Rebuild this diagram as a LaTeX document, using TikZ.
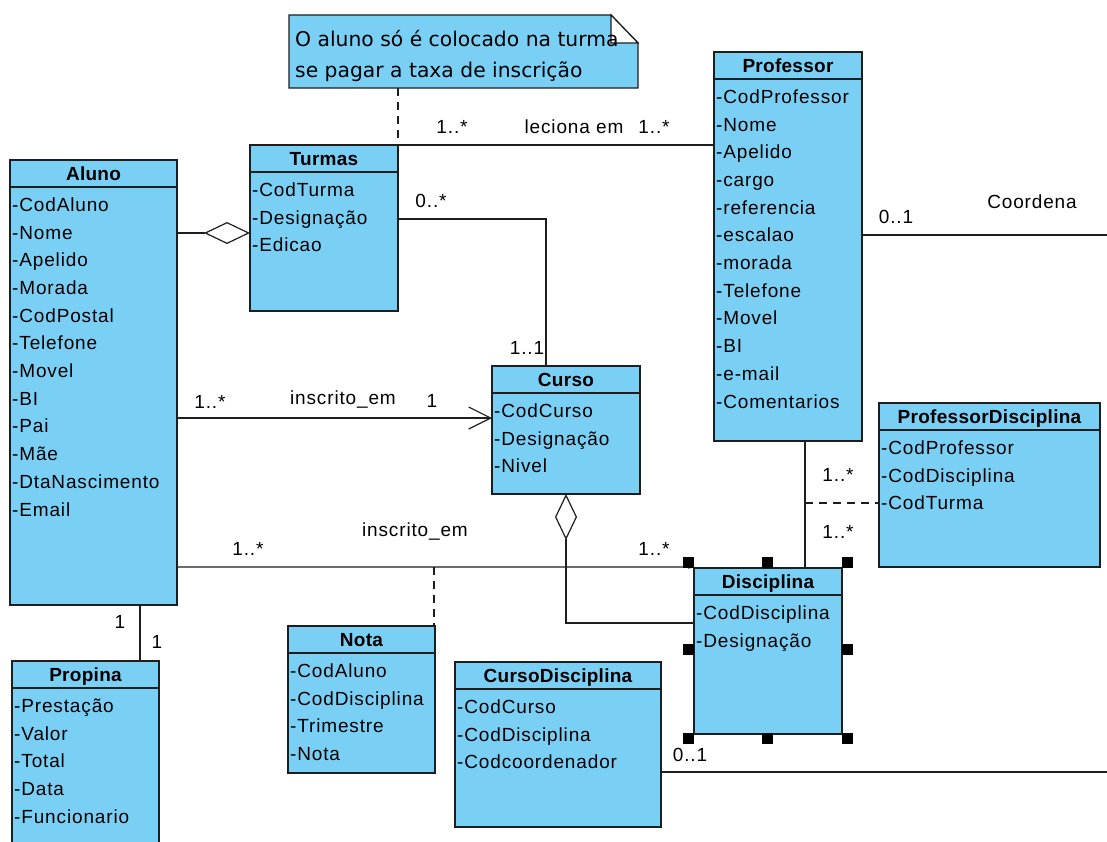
\documentclass[tikz,border=0pt]{standalone}
\usepackage{fontspec}
\setmainfont{Liberation Sans}[LetterSpace=4.5, BoldFeatures={LetterSpace=1.5}]
\newfontfamily\notefont{DejaVu Sans}
\usetikzlibrary{arrows.meta,calc}
\definecolor{clsfill}{HTML}{7ACFF5}
\definecolor{clsborder}{HTML}{1E1E1E}
\tikzset{
  clsbox/.style={draw=clsborder, fill=clsfill, line width=1.4pt, inner sep=0pt, outer sep=0pt},
  clsline/.style={draw=clsborder, line width=1.4pt},
  clstitle/.style={inner sep=0pt, font=\fontsize{19}{22}\selectfont\bfseries},
  clsattr/.style={inner sep=0pt, font=\fontsize{19}{22}\selectfont},
  notetext/.style={inner sep=0pt, font=\notefont\fontsize{20.3}{24}\selectfont, anchor=base west},
  lbl/.style={inner sep=0pt, font=\fontsize{19}{22}\selectfont, anchor=base},
  conn/.style={draw=clsborder, line width=1.2pt},
  dashconn/.style={conn, dash pattern=on 8pt off 6pt},
  aggtip/.tip={Diamond[open,length=46pt,width=22pt]},
  barbtip/.tip={Straight Barb[length=22pt,width=22pt]},
  handle/.style={fill=black, draw=none, minimum size=11pt, inner sep=0pt},
}
\newcommand{\umlclass}[7]{%
  \node[clsbox, minimum width=#4pt, minimum height=#5pt, anchor=north west] (#1) at (#2,#3) {};
  \draw[clsline] ($(#1.north west)+(0,27)$) -- ($(#1.north east)+(0,27)$);
  \node[clstitle, anchor=base] (#1-title) at ($(#1.north)+(0,20.3)$) {#6};
  \foreach \a [count=\i] in {#7} {
    \node[clsattr, anchor=base west] (#1-a\i) at ($(#1.north west)+(2,{27+17.5+6.8+(\i-1)*27.7})$) {\a};
  }%
}
\begin{document}
\begin{tikzpicture}[x=1pt,y=-1pt]
\useasboundingbox (0,0) rectangle (1107,841);
\clip (0,0) rectangle (1107,841);
\fill[white] (0,0) rectangle (1107,841);

\coordinate (ce1) at (1107,235);
\coordinate (ce2) at (1107,772);
\coordinate (nj) at (434,567);
\coordinate (pj) at (805,503);

% classes
\umlclass{aluno}{10}{160}{167}{445}{Aluno}{-CodAluno,-Nome,-Apelido,-Morada,-CodPostal,-Telefone,-Movel,-BI,-Pai,-Mãe,-DtaNascimento,-Email}
\umlclass{turmas}{250}{145}{148}{166}{Turmas}{-CodTurma,-Designação,-Edicao}
\umlclass{professor}{714}{52}{148}{389}{Professor}{-CodProfessor,-Nome,-Apelido,-cargo,-referencia,-escalao,-morada,-Telefone,-Movel,-BI,-e-mail,-Comentarios}
\umlclass{curso}{492}{366}{148}{128}{Curso}{-CodCurso,-Designação,-Nivel}
\umlclass{disciplina}{694}{568}{148}{166}{Disciplina}{-CodDisciplina,-Designação}
\umlclass{nota}{288}{626}{147}{147}{Nota}{-CodAluno,-CodDisciplina,-Trimestre,-Nota}
\umlclass{profdisc}{879}{403}{221}{164}{ProfessorDisciplina}{-CodProfessor,-CodDisciplina,-CodTurma}
\umlclass{propina}{12}{661}{147}{200}{Propina}{-Prestação,-Valor,-Total,-Data,-Funcionario}
\umlclass{cursodisc}{455}{662}{206}{165}{CursoDisciplina}{-CodCurso,-CodDisciplina,-Codcoordenador}

% note
\node[inner sep=0pt, outer sep=0pt, minimum width=349pt, minimum height=73pt, anchor=north west] (note) at (289,15) {};
\draw[clsbox] (note.north west) -- ($(note.north east)+(-27,0)$) -- ($(note.north east)+(0,28)$) -- (note.south east) -- (note.south west) -- cycle;
\draw[clsline, fill=white, line width=1.2pt] ($(note.north east)+(-27,0)$) -- ($(note.north east)+(0,28)$) -- ($(note.north east)+(-27,28)$) -- cycle;
\node[notetext] (note-l1) at (295,46) {O aluno só é colocado na turma};
\node[notetext] (note-l2) at (295,77) {se pagar a taxa de inscrição};

% connectors
\draw[dashconn] (note.south -| turmas.north east) -- (turmas.north east);
\draw[conn] (turmas.north east) -- (professor.west |- turmas.north east);
\draw[conn] (turmas.east |- 0,219) -| (curso.north -| 546,0);
\draw[conn, -{aggtip}] (aluno.east |- 0,233) -- (turmas.west |- 0,233);
\draw[conn, -{barbtip}] (aluno.east |- 0,418) -- (curso.west |- 0,418);
\draw[conn, {aggtip}-] (curso.south) |- (disciplina.west |- 0,623);
\draw[conn] (aluno.east |- nj) -- (disciplina.north west |- nj) -- ($(disciplina.north west)+(-6,0)$);
\draw[dashconn] (nj) -- (nj |- nota.north);
\draw[conn] (aluno.south -| 140,0) -- (propina.north -| 140,0);
\draw[conn] (professor.south -| pj) -- (disciplina.north -| pj);
\draw[dashconn] (pj) -- (profdisc.west |- pj);
\draw[conn] (professor.east |- ce1) -- (ce1);
\draw[conn] (cursodisc.east |- ce2) -- (ce2);

% labels
\node[lbl] (l1) at (452,133.8) {1..*};
\node[lbl] (l2) at (574,133.8) {leciona em};
\node[lbl] (l3) at (654,133.8) {1..*};
\node[lbl] (l4) at (431,207.8) {0..*};
\node[lbl] (l5) at (527,354.8) {1..1};
\node[lbl] (l6) at (896,223.8) {0..1};
\node[lbl] (l7) at (1032,208.8) {Coordena};
\node[lbl] (l8) at (210,408.8) {1..*};
\node[lbl] (l9) at (343,404.8) {inscrito\_em};
\node[lbl] (l10) at (432,407.8) {1};
\node[lbl] (l11) at (415,536.8) {inscrito\_em};
\node[lbl] (l12) at (248,555.8) {1..*};
\node[lbl] (l13) at (654,555.8) {1..*};
\node[lbl] (l14) at (838,481.8) {1..*};
\node[lbl] (l15) at (838,538.8) {1..*};
\node[lbl] (l16) at (120,628.8) {1};
\node[lbl] (l17) at (157,648.8) {1};
\node[lbl] (l18) at (690,761.8) {0..1};

% selection handles
\foreach \hx/\hy [count=\k] in {688/562,767/562,847/562,688/649,847/649,688/738,767/738,847/738}
  \node[handle] (h\k) at (\hx,\hy) {};
\end{tikzpicture}
\end{document}
